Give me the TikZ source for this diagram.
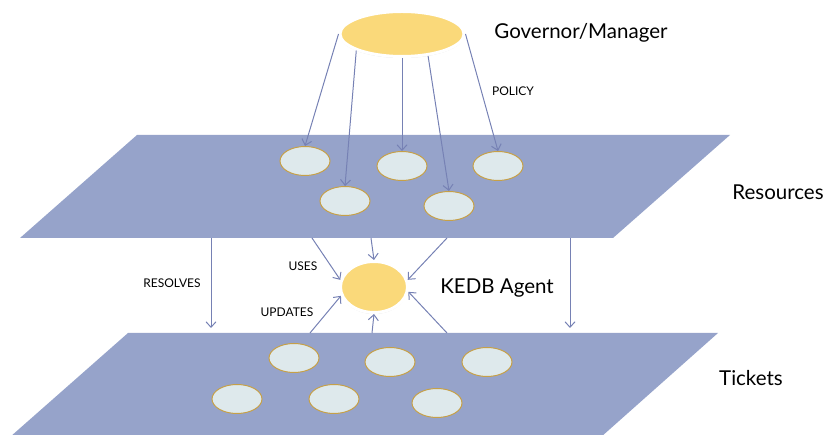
\documentclass[tikz,border=0pt]{standalone}
\usepackage{fontspec}
\setmainfont{Lato}
\usetikzlibrary{shapes.geometric,shadows,arrows.meta}

\definecolor{planeblue}{RGB}{150,163,202}
\definecolor{linkblue}{RGB}{118,129,180}
\definecolor{discfill}{RGB}{222,233,236}
\definecolor{discedge}{RGB}{198,160,72}
\definecolor{agentyellow}{RGB}{250,217,122}

\tikzset{
    disc/.style={ellipse, draw=discedge, fill=discfill, line width=1pt,
        minimum width=50pt, minimum height=29pt, inner sep=0pt},
    agent/.style={ellipse, draw=white, fill=agentyellow, line width=3pt, inner sep=0pt,
        drop shadow={opacity=0.25, shadow xshift=0pt, shadow yshift=-1.5pt}},
    link/.style={draw=linkblue, line width=1pt, ->},
    tag/.style={font=\fontsize{12}{14}\selectfont},
    title/.style={font=\fontsize{20.5}{24}\selectfont}
}

\begin{document}
\begin{tikzpicture}[x=1pt, y=-1pt, >={Straight Barb[length=5.5pt,width=10pt]}]
    \useasboundingbox (0,0) rectangle (828,435);

    \fill[planeblue] (137,135) -- (730,135) -- (613,238) -- (20,238) -- cycle;
    \fill[planeblue] (128,333) -- (718,333) -- (601,437) -- (10,437) -- cycle;

    \node[agent, minimum width=124pt, minimum height=45pt] (gov) at (402,34) {};
    \node[title] (govtext) at (581,33) {Governor/Manager};
    \node[tag] (policy) at (513,91) {POLICY};

    \node[disc] (res1) at (305,161) {};
    \node[disc] (res2) at (402,166) {};
    \node[disc] (res3) at (498,166) {};
    \node[disc] (res4) at (345,201) {};
    \node[disc] (res5) at (449,206) {};
    \node[title] (restext) at (778,192) {Resources};

    \node[disc] (tix1) at (294,358) {};
    \node[disc] (tix2) at (390,362) {};
    \node[disc] (tix3) at (487,362) {};
    \node[disc] (tix4) at (237,399) {};
    \node[disc] (tix5) at (334,399) {};
    \node[disc] (tix6) at (437,403) {};
    \node[title] (tixtext) at (751,378) {Tickets};

    \node[agent, minimum width=67pt, minimum height=51pt] (kedb) at (374,287) {};
    \node[title] (kedbtext) at (497,288) {KEDB Agent};
    \node[tag] (uses) at (303,266) {USES};
    \node[tag] (updates) at (287,312) {UPDATES};
    \node[tag] (resolves) at (172,283) {RESOLVES};

    \draw[link] (gov.west) -- (res1.north);
    \draw[link] (gov.200) -- (res4.north);
    \draw[link] (gov.south) -- (res2.north);
    \draw[link] (gov.320) -- (res5.north);
    \draw[link] (gov.east) -- (res3.north);

    \coordinate (resA) at (211,238);
    \coordinate (resB) at (312,238);
    \coordinate (resC) at (371,238);
    \coordinate (resD) at (447,238);
    \coordinate (resE) at (570,238);
    \coordinate (tixA) at (211,328);
    \coordinate (tixB) at (310,333);
    \coordinate (tixC) at (372,333);
    \coordinate (tixD) at (447,333);
    \coordinate (tixE) at (570,328);

    \draw[link] (resA) -- (tixA);
    \draw[link] (resE) -- (tixE);
    \draw[link] (resB) -- (kedb.168);
    \draw[link] (resC) -- (kedb.north);
    \draw[link] (resD) -- (kedb.12);
    \draw[link] (tixB) -- (kedb.195);
    \draw[link] (tixC) -- (kedb.south);
    \draw[link] (tixD) -- (kedb.352);
\end{tikzpicture}
\end{document}
